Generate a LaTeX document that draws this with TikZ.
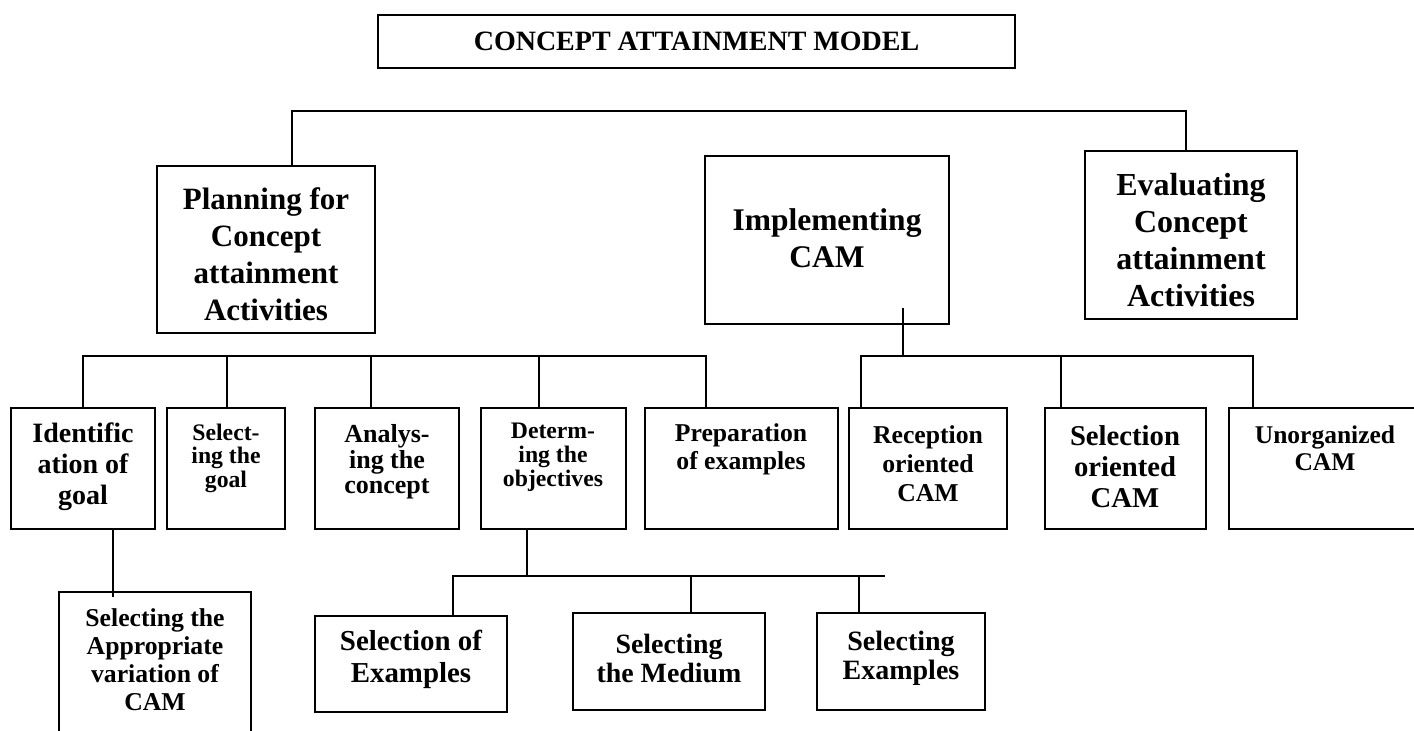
\documentclass[tikz,border=0pt]{standalone}
\usepackage{fontspec}
\setmainfont{Liberation Serif}
\tikzset{
    box/.style={
           rectangle,
           draw=black, line width=1.6pt,
           inner sep=0pt,
           },
}
\tikzset{
    txt/.style 2 args={
           align=center,
           inner sep=0pt,
           font=\bfseries\fontsize{#1}{#2}\selectfont,
           },
}
\tikzset{
    link/.style={draw=black, line width=1.6pt},
    toplink/.style={draw=black, line width=1.3pt},
}
\begin{document}
\begin{tikzpicture}[x=1pt,y=-1pt]
\fill[white] (0,0) rectangle (1414,731);
\useasboundingbox (0,0) rectangle (1414,731);
% title and first level
\node[box, minimum width=637pt, minimum height=53pt] (title) at (696.5,41.5) {};
\node[txt={28}{32}] (title-t) at (696.5,41.5) {CONCEPT ATTAINMENT MODEL};
\node[box, minimum width=218pt, minimum height=167pt] (plan) at (266,249.5) {};
\node[txt={31}{37}] (plan-t) at (266,254) {Planning for\\Concept\\attainment\\Activities};
\node[box, minimum width=244pt, minimum height=168pt] (impl) at (827,240) {};
\node[txt={31.5}{37}] (impl-t) at (827,238) {Implementing\\CAM};
\node[box, minimum width=212pt, minimum height=168pt] (eval) at (1191,235) {};
\node[txt={32}{37}] (eval-t) at (1191,240) {Evaluating\\Concept\\attainment\\Activities};
% second level
\node[box, minimum width=144pt, minimum height=121pt] (ident) at (83,468.5) {};
\node[txt={28}{31}] (ident-t) at (83,467) {Identific\\ation of\\goal};
\node[box, minimum width=118pt, minimum height=121pt] (selgoal) at (226,468.5) {};
\node[txt={23.7}{23.5}] (selgoal-t) at (226,458) {Select-\\ing the\\goal};
\node[box, minimum width=144pt, minimum height=121pt] (analys) at (387,468.5) {};
\node[txt={26}{25.5}] (analys-t) at (387,462) {Analys-\\ing the\\concept};
\node[box, minimum width=145pt, minimum height=121pt] (determ) at (553.5,468.5) {};
\node[txt={23.7}{24}] (determ-t) at (553,457) {Determ-\\ing the\\objectives};
\node[box, minimum width=193pt, minimum height=121pt] (prep) at (741.5,468.5) {};
\node[txt={25.7}{28}] (prep-t) at (741,449) {Preparation\\of examples};
\node[box, minimum width=158pt, minimum height=121pt] (recep) at (928,468.5) {};
\node[txt={25.7}{29}] (recep-t) at (928,464) {Reception\\oriented\\CAM};
\node[box, minimum width=161pt, minimum height=121pt] (selor) at (1125.5,468.5) {};
\node[txt={28.7}{31}] (selor-t) at (1125,467) {Selection\\oriented\\CAM};
\node[box, minimum width=193pt, minimum height=121pt] (unorg) at (1325.5,468.5) {};
\node[txt={25.5}{27}] (unorg-t) at (1325,448) {Unorganized\\CAM};
% third level
\node[box, minimum width=192pt, minimum height=153pt] (approp) at (155,668.5) {};
\node[txt={25.7}{28}] (approp-t) at (155,660) {Selecting the\\Appropriate\\variation of\\CAM};
\node[box, minimum width=192pt, minimum height=96pt] (selex) at (411,664) {};
\node[txt={28.9}{32}] (selex-t) at (411,659) {Selection of\\Examples};
\node[box, minimum width=192pt, minimum height=97pt] (medium) at (669,661.5) {};
\node[txt={27.9}{29}] (medium-t) at (669,658) {Selecting\\the Medium};
\node[box, minimum width=168pt, minimum height=97pt] (selexm) at (901,661.5) {};
\node[txt={28}{29}] (selexm-t) at (901,658) {Selecting\\Examples};
% connectors
\coordinate (top-l) at (292,111);
\coordinate (top-r) at (1186,111);
\draw[toplink] (plan.north -| top-l) -- (top-l) -- (top-r) -- (eval.north -| top-r);
\coordinate (pb-l) at (83,356);
\coordinate (pb-r) at (706,356);
\draw[link] (ident.north -| pb-l) -- (pb-l) -- (pb-r) -- (prep.north -| pb-r);
\foreach \x/\n in {227/selgoal,371/analys,539/determ}
  \draw[link] (\x,356) -- (\n.north -| \x,356);
\coordinate (ib-in) at (903,308);
\coordinate (ib-j) at (903,356);
\draw[link] (ib-in) -- (ib-j);
\draw[link] (recep.north -| 861,356) -- (861,356) -- (1253,356) -- (unorg.north -| 1253,356);
\draw[link] (1061,356) -- (selor.north -| 1061,356);
\draw[link] (ident.south -| 113,0) -- (113,597);
\draw[link] (determ.south -| 527,0) -- (527,576);
\draw[link] (selex.north -| 453,576) -- (453,576) -- (885,576);
\foreach \x/\n in {691/medium,859/selexm}
  \draw[link] (\x,576) -- (\n.north -| \x,576);
\end{tikzpicture}
\end{document}
